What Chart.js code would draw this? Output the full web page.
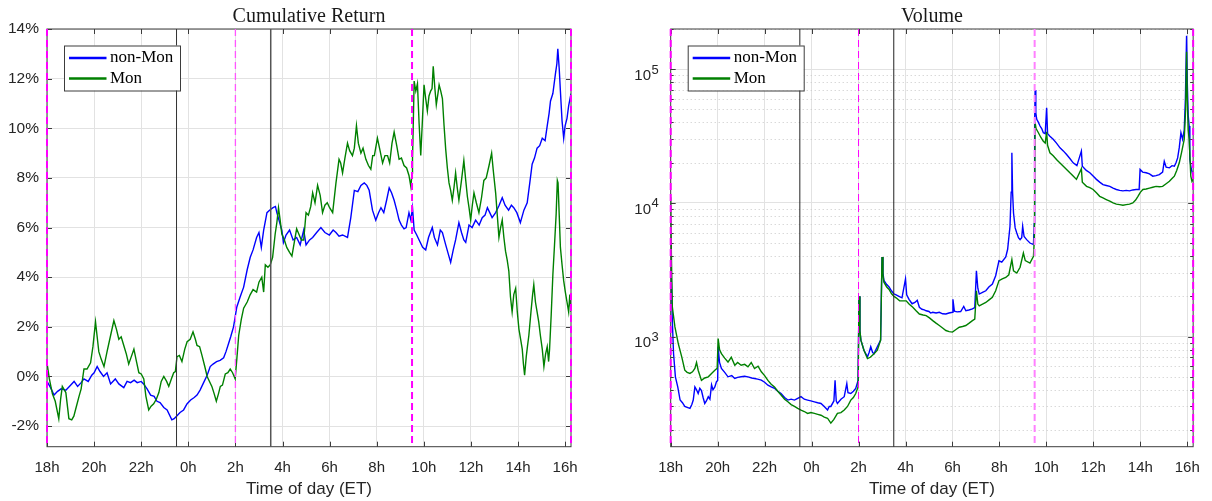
<!DOCTYPE html>
<html>
<head>
<meta charset="utf-8">
<script src="https://cdn.jsdelivr.net/npm/chart.js@4/dist/chart.umd.min.js"></script>
<style>
  body { margin: 0; background: #fff; }
  #wrap { position: relative; width: 1212px; height: 501px; }
  canvas { position: absolute; top: 0; }
</style>
</head>
<body>
<div id="wrap">
  <canvas id="retChart" width="606" height="501" style="left:0"></canvas>
  <canvas id="volChart" width="606" height="501" style="left:606px"></canvas>
</div>
<script>
// hours counted from 18:00 ET (0 = 18h, 22.25 = 16:15)
const xTickHours = [0, 2, 4, 6, 8, 10, 12, 14, 16, 18, 20, 22];
const xTickLabels = ['18h', '20h', '22h', '0h', '2h', '4h', '6h', '8h', '10h', '12h', '14h', '16h'];
const retTicks = [-2, 0, 2, 4, 6, 8, 10, 12, 14];
const volMajorTicks = [1e3, 1e4, 1e5];
const volMajorExps = ['3', '4', '5'];

// session markers: magenta dashed (18h, 2h, 9:30, 16:15) and black (23:30, 3:30)
const magentaHours = [0, 8, 15.5, 22.25];
const blackHours = [5.5, 9.5];

// cumulative return (%), non-Monday
const retNonMonHours = [0,0.15,0.3,0.45,0.6,0.8,1.0,1.15,1.3,1.45,1.57,1.75,1.9,2.0,2.13,2.25,2.4,2.55,2.7,2.9,3.05,3.26,3.4,3.55,3.7,3.83,4.0,4.1,4.25,4.4,4.55,4.67,4.8,4.96,5.1,5.3,5.4,5.5,5.65,5.8,5.95,6.1,6.25,6.37,6.5,6.65,6.8,6.93,7.05,7.2,7.35,7.5,7.6,7.7,7.8,7.92,8.06,8.2,8.35,8.5,8.63,8.75,8.9,9.0,9.1,9.2,9.34,9.45,9.6,9.7,9.76,9.85,9.97,10.04,10.15,10.3,10.45,10.6,10.75,10.9,11.0,11.15,11.28,11.45,11.63,11.8,11.99,12.15,12.27,12.4,12.55,12.76,12.9,13.05,13.2,13.33,13.47,13.58,13.68,13.82,13.96,14.08,14.18,14.3,14.42,14.53,14.63,14.74,14.85,14.95,15.05,15.16,15.25,15.37,15.45,15.52,15.59,15.7,15.8,15.95,16.08,16.2,16.36,16.45,16.58,16.7,16.79,16.93,17.05,17.14,17.25,17.35,17.49,17.6,17.7,17.78,17.92,18.05,18.2,18.35,18.48,18.6,18.7,18.8,18.9,19.05,19.2,19.33,19.45,19.6,19.72,19.82,19.95,20.1,20.25,20.39,20.5,20.6,20.7,20.81,20.92,21.03,21.15,21.24,21.32,21.38,21.48,21.59,21.65,21.69,21.75,21.8,21.87,21.94,22.0,22.08,22.15,22.25];
const retNonMon = [-0.2,-0.45,-0.75,-0.6,-0.5,-0.55,-0.35,-0.2,-0.4,-0.25,-0.1,-0.2,0.05,0.15,0.4,0.2,0.0,0.15,-0.3,-0.1,-0.3,-0.45,-0.2,-0.25,-0.15,-0.25,-0.2,-0.3,-0.5,-0.75,-0.8,-1.0,-1.05,-1.25,-1.35,-1.75,-1.7,-1.6,-1.45,-1.35,-1.1,-0.95,-0.85,-0.75,-0.55,-0.25,0.05,0.4,0.5,0.6,0.65,0.75,1.0,1.3,1.6,2.0,2.8,3.2,3.6,4.3,4.8,5.1,5.6,5.8,5.2,5.9,6.6,6.7,6.8,6.85,6.6,6.3,5.9,5.4,5.7,5.9,5.5,5.6,5.3,5.9,5.3,5.5,5.6,5.8,6.0,5.8,5.7,5.9,5.8,5.65,5.7,5.6,6.4,7.5,7.45,7.7,7.8,7.7,7.5,6.7,6.3,6.6,6.8,6.6,7.1,7.6,7.4,7.1,6.7,6.3,6.1,5.95,6.0,6.6,6.3,6.8,5.9,5.7,5.5,5.2,5.1,5.6,6.0,5.6,5.3,5.9,5.8,5.3,4.9,4.6,5.1,5.5,6.2,5.8,5.5,5.4,6.1,6.0,6.3,6.1,6.4,6.5,6.8,6.6,6.4,6.6,6.9,7.2,6.9,6.7,6.9,6.8,6.6,6.2,6.7,7.0,7.8,8.55,8.8,9.2,9.3,9.6,9.5,10.1,10.6,11.1,11.4,12.2,12.6,13.2,12.4,11.5,10.3,9.6,10.1,10.4,10.9,11.4];

// cumulative return (%), Monday
const retMonHours = [0,0.1,0.23,0.35,0.5,0.58,0.65,0.8,0.93,1.05,1.14,1.25,1.36,1.45,1.57,1.7,1.85,1.95,2.06,2.13,2.2,2.3,2.42,2.55,2.7,2.84,2.95,3.05,3.15,3.26,3.37,3.47,3.58,3.69,3.8,3.9,4.0,4.11,4.2,4.32,4.42,4.53,4.65,4.75,4.85,4.96,5.08,5.17,5.28,5.38,5.45,5.52,5.62,5.73,5.85,5.95,6.08,6.2,6.3,6.37,6.48,6.58,6.7,6.8,6.9,7.0,7.1,7.19,7.28,7.36,7.45,7.57,7.68,7.78,7.88,7.99,8.06,8.14,8.25,8.35,8.5,8.63,8.75,8.9,9.0,9.12,9.2,9.27,9.38,9.48,9.58,9.69,9.76,9.83,9.9,9.97,10.08,10.18,10.3,10.4,10.5,10.6,10.71,10.8,10.9,11.0,11.1,11.2,11.28,11.38,11.49,11.6,11.7,11.8,11.9,12.0,12.13,12.27,12.4,12.47,12.55,12.65,12.76,12.85,12.97,13.05,13.14,13.22,13.33,13.42,13.54,13.65,13.75,13.83,13.9,14.03,14.12,14.25,14.35,14.46,14.55,14.65,14.74,14.85,14.95,15.05,15.16,15.27,15.37,15.45,15.5,15.52,15.56,15.59,15.66,15.73,15.8,15.87,15.94,16.01,16.08,16.15,16.22,16.29,16.35,16.4,16.47,16.53,16.6,16.65,16.72,16.79,16.86,16.93,17.0,17.07,17.14,17.21,17.28,17.35,17.42,17.49,17.6,17.7,17.78,17.85,17.92,17.99,18.06,18.13,18.23,18.34,18.45,18.55,18.65,18.77,18.88,18.95,19.05,19.12,19.19,19.26,19.33,19.4,19.47,19.54,19.61,19.68,19.75,19.82,19.9,19.97,20.04,20.11,20.18,20.23,20.28,20.35,20.4,20.46,20.55,20.62,20.67,20.74,20.81,20.88,20.95,21.03,21.1,21.17,21.24,21.3,21.34,21.41,21.48,21.55,21.62,21.67,21.7,21.75,21.8,21.87,21.94,22.01,22.08,22.15,22.2,22.25];
const retMon = [0.55,-0.1,-0.7,-1.0,-1.7,-0.9,-0.4,-0.65,-1.7,-1.75,-1.6,-1.2,-0.8,-0.5,0.3,0.3,0.55,1.2,2.2,1.6,1.0,0.7,0.4,1.0,1.65,2.25,1.9,1.5,1.6,1.25,0.9,0.5,0.8,1.1,0.6,0.15,0.1,-0.1,-0.8,-1.35,-1.2,-1.1,-0.9,-0.65,-0.2,0.0,-0.2,-0.4,-0.1,0.15,0.2,0.8,0.85,0.6,1.1,1.4,1.5,1.8,1.5,1.25,1.2,0.85,0.4,0.0,-0.2,-0.4,-0.7,-1.0,-0.7,-0.4,-0.35,0.1,0.15,0.3,0.15,-0.1,0.7,1.65,2.3,2.75,3.0,3.3,3.5,3.4,3.8,4.0,3.4,4.5,4.4,4.5,4.8,5.75,6.2,6.8,6.3,5.75,5.5,5.2,5.0,4.85,5.4,5.95,5.7,5.5,5.5,6.6,6.5,6.85,7.4,7.0,7.7,7.3,6.6,6.9,7.0,6.8,6.6,7.8,8.75,8.6,8.2,8.8,9.4,9.1,8.9,9.2,10.1,9.4,9.0,9.2,8.75,8.5,8.35,8.9,8.9,9.6,9.2,8.6,8.9,8.9,8.6,9.4,9.85,9.3,8.75,8.8,8.5,8.4,8.1,7.65,8.2,8.75,10.5,11.9,11.5,11.8,10.2,8.9,10.3,11.75,11.2,10.7,11.3,11.5,11.6,12.5,11.6,10.95,11.4,11.75,11.5,11.2,10.1,9.15,8.4,7.8,7.5,7.1,7.6,8.2,7.6,7.1,7.9,8.7,7.9,7.25,6.8,6.3,6.9,7.4,7.0,6.6,7.2,7.9,8.0,8.5,9.0,8.3,7.4,6.5,5.6,6.0,6.3,5.6,5.05,4.7,4.25,3.2,2.6,3.3,3.55,2.6,1.9,1.5,1.1,0.5,0.05,0.8,1.2,1.65,2.6,3.3,3.7,3.0,2.6,2.2,1.65,1.1,0.4,0.9,1.2,0.6,1.1,2.5,4.1,5.3,6.55,7.9,7.8,6.5,5.2,4.5,3.85,3.4,3.0,2.6,3.3,2.6];

// volume, non-Monday
const volNonMonHours = [0,0.03,0.07,0.12,0.2,0.3,0.4,0.5,0.6,0.7,0.82,0.9,0.96,1.03,1.1,1.17,1.24,1.31,1.38,1.45,1.52,1.6,1.67,1.74,1.8,1.88,1.95,2.0,2.02,2.08,2.16,2.3,2.44,2.6,2.73,2.85,3.0,3.15,3.29,3.45,3.57,3.7,3.86,4.0,4.14,4.28,4.42,4.56,4.7,4.85,4.99,5.13,5.27,5.41,5.55,5.69,5.83,5.97,6.12,6.26,6.4,6.54,6.68,6.75,6.82,6.95,7.0,7.05,7.1,7.25,7.39,7.5,7.55,7.67,7.78,7.88,7.98,8.02,8.06,8.1,8.23,8.38,8.45,8.52,8.6,8.66,8.8,8.94,9.0,9.04,9.08,9.2,9.3,9.4,9.5,9.6,9.72,9.85,10.0,10.05,10.15,10.28,10.4,10.5,10.59,10.7,10.8,10.88,11.0,11.07,11.16,11.3,11.44,11.58,11.72,11.85,12.0,12.02,12.08,12.2,12.35,12.48,12.57,12.7,12.85,12.95,13.02,13.08,13.14,13.3,13.42,13.55,13.7,13.84,13.98,14.1,14.27,14.35,14.45,14.5,14.53,14.56,14.6,14.67,14.74,14.81,14.88,14.95,14.99,15.05,15.16,15.3,15.45,15.48,15.5,15.52,15.55,15.59,15.66,15.73,15.8,15.87,15.95,16.01,16.05,16.15,16.29,16.43,16.58,16.72,16.86,17.0,17.14,17.3,17.49,17.53,17.7,17.85,18.0,18.13,18.27,18.41,18.55,18.7,18.84,18.98,19.12,19.26,19.4,19.54,19.68,19.82,19.95,19.99,20.1,20.25,20.39,20.53,20.67,20.81,20.95,21.02,21.1,21.24,21.35,21.45,21.52,21.59,21.66,21.73,21.8,21.87,21.92,21.97,22.0,22.04,22.08,22.11,22.17,22.25];
const volNonMon = [3500,2600,1300,750,500,420,335,320,300,295,290,310,335,420,400,375,410,395,350,316,330,355,340,435,400,420,460,470,840,640,577,540,500,510,486,495,500,505,500,490,486,480,472,455,433,420,410,390,375,350,335,340,335,345,355,340,335,330,325,320,316,300,282,300,300,330,470,330,316,340,355,445,380,375,390,410,470,2000,1100,940,790,705,760,840,760,745,840,940,3930,3000,2630,2450,2350,2200,2090,2050,2000,1950,2700,2050,1900,1760,1800,1870,1655,1600,1585,1560,1540,1500,1520,1500,1520,1480,1475,1500,1520,1900,1550,1530,1540,1680,1560,1580,1610,1650,3100,2300,2080,2150,2200,2350,2470,2850,3690,3600,3950,4500,6680,12000,23700,12000,8400,6500,5960,5500,5310,5500,6680,5600,5310,5010,4880,7000,40000,70000,47000,42200,40000,37600,36000,33500,33000,51500,33000,31500,29900,28000,25800,24500,23000,21500,19950,19000,24400,18800,17500,16800,15800,15000,14300,13700,13500,13300,12900,12600,12400,12300,12400,12300,12500,12600,12600,17800,17000,16800,16500,15850,16000,16300,17000,20500,18500,18300,19000,18800,20000,21700,26000,33500,30000,35000,60000,178000,80000,45000,37600,21100,18000,15850];

// volume, Monday
const volMonHours = [0,0.03,0.07,0.18,0.32,0.47,0.6,0.7,0.82,0.93,1.03,1.1,1.17,1.31,1.45,1.6,1.74,1.88,1.98,2.02,2.08,2.16,2.3,2.44,2.58,2.73,2.85,3.0,3.15,3.29,3.43,3.57,3.72,3.86,4.0,4.14,4.28,4.42,4.56,4.7,4.85,4.99,5.13,5.27,5.41,5.55,5.69,5.83,5.97,6.12,6.26,6.4,6.54,6.68,6.82,6.95,7.1,7.25,7.39,7.53,7.67,7.78,7.88,7.98,8.02,8.06,8.1,8.23,8.38,8.5,8.66,8.8,8.94,9.0,9.04,9.08,9.2,9.3,9.4,9.5,9.6,9.75,9.9,10.03,10.15,10.31,10.45,10.59,10.75,10.88,11.02,11.16,11.3,11.44,11.58,11.72,11.86,12.0,12.15,12.29,12.43,12.57,12.71,12.85,12.95,13.02,13.08,13.14,13.28,13.42,13.56,13.7,13.84,13.98,14.12,14.27,14.4,14.53,14.6,14.74,14.88,15.02,15.1,15.3,15.45,15.49,15.52,15.56,15.66,15.76,15.87,15.95,16.01,16.05,16.15,16.29,16.43,16.58,16.72,16.86,17.0,17.14,17.28,17.49,17.53,17.71,17.85,17.99,18.13,18.27,18.41,18.55,18.7,18.84,18.98,19.12,19.26,19.4,19.54,19.68,19.8,19.9,20.0,20.11,20.25,20.39,20.53,20.67,20.81,20.95,21.1,21.24,21.35,21.45,21.55,21.66,21.76,21.87,21.93,21.97,22.0,22.04,22.08,22.15,22.2,22.25];
const volMon = [11000,4000,1660,1180,890,705,560,540,530,545,577,640,560,470,490,500,530,560,580,965,800,745,690,645,700,610,640,610,620,594,640,577,600,545,510,470,440,420,390,365,340,325,310,300,290,282,275,266,270,266,262,258,250,245,225,240,266,270,282,300,335,350,375,420,2000,1100,940,790,685,700,745,790,940,3930,2900,2550,2350,2250,2100,2000,1950,1855,1850,1850,1750,1655,1560,1475,1450,1435,1380,1316,1260,1210,1160,1110,1090,1080,1130,1175,1190,1210,1260,1316,1350,2200,1750,1700,1750,1800,1880,1965,2200,2620,2700,2770,2900,3760,3100,2985,3300,4220,3700,3550,3980,5500,39800,36000,33500,31000,28900,28000,34000,27000,23700,22500,21100,19900,18800,17800,16800,15900,15000,18000,14300,13300,13000,12600,11900,11200,10900,10600,10300,10000,9800,9700,9600,9700,9800,10000,10500,11200,12000,12600,12700,12900,13100,13300,13200,13300,13900,14500,15200,15850,17500,19950,24000,29900,50000,135000,60000,35000,29900,15850,14500,15000];

const SANS = "'Liberation Sans', Arial, 'DejaVu Sans', sans-serif";
const SERIF = "'Liberation Serif', 'Times New Roman', serif";
const BLUE = '#0000ff';
const GREEN = '#008000';

function pts(hours, vals) {
  return hours.map((h, i) => ({ x: h, y: vals[i] }));
}

// dotted minor grid (log axis only) under the data
const minorGrid = {
  id: 'minorGrid',
  beforeDatasetsDraw(chart) {
    const { ctx, chartArea: a, scales: { y } } = chart;
    ctx.save();
    ctx.strokeStyle = '#c8c8c8';
    ctx.lineWidth = 1;
    ctx.setLineDash([1, 3]);
    ctx.beginPath();
    y.ticks.forEach(t => {
      if (t.major !== false) return;
      const py = Math.round(y.getPixelForValue(t.value)) + 0.5;
      ctx.moveTo(a.left, py); ctx.lineTo(a.right, py);
    });
    ctx.stroke();
    ctx.restore();
  }
};

// box, inward ticks, session lines and legend, drawn over the plot
const decor = {
  id: 'decor',
  afterDatasetsDraw(chart, args, opts) {
    const { ctx, chartArea: a, scales: { x, y } } = chart;
    ctx.save();
    ctx.strokeStyle = '#3c3c3c';
    ctx.lineWidth = 1;
    ctx.strokeRect(a.left, a.top, a.right - a.left, a.bottom - a.top);
    ctx.beginPath();
    x.ticks.forEach(t => {
      const px = Math.round(x.getPixelForValue(t.value)) + 0.5;
      ctx.moveTo(px, a.bottom); ctx.lineTo(px, a.bottom - 5);
      ctx.moveTo(px, a.top); ctx.lineTo(px, a.top + 5);
    });
    y.ticks.forEach(t => {
      const py = Math.round(y.getPixelForValue(t.value)) + 0.5;
      const len = t.major === false ? 3 : 5;
      ctx.moveTo(a.left, py); ctx.lineTo(a.left + len, py);
      ctx.moveTo(a.right, py); ctx.lineTo(a.right - len, py);
    });
    ctx.stroke();

    // power-of-ten labels for the log axis
    if (opts.powerLabels) {
      ctx.fillStyle = '#262626';
      ctx.textAlign = 'right';
      ctx.textBaseline = 'alphabetic';
      volMajorTicks.forEach((v, i) => {
        const py = y.getPixelForValue(v);
        ctx.font = '13px ' + SANS;
        const ex = a.left - 12;
        ctx.fillText(volMajorExps[i], ex, py + 4.5);
        const ew = ctx.measureText(volMajorExps[i]).width;
        ctx.font = '15px ' + SANS;
        ctx.fillText('10', ex - ew - 0.5, py + 10.7);
      });
    }

    // session lines
    blackHours.forEach((h, i) => {
      const s = opts.black[i];
      const px = x.getPixelForValue(h);
      ctx.beginPath();
      ctx.setLineDash([]);
      ctx.strokeStyle = s.color; ctx.lineWidth = s.width;
      ctx.moveTo(px, a.top); ctx.lineTo(px, a.bottom);
      ctx.stroke();
    });
    magentaHours.forEach((h, i) => {
      const s = opts.magenta[i];
      const px = x.getPixelForValue(h);
      ctx.beginPath();
      ctx.setLineDash([7, 4]);
      ctx.strokeStyle = s.color; ctx.lineWidth = s.width;
      ctx.moveTo(px, a.top); ctx.lineTo(px, a.bottom);
      ctx.stroke();
    });
    ctx.setLineDash([]);

    // legend
    const bx = a.left + 17, by = a.top + 16.5, bw = 116, bh = 45;
    ctx.fillStyle = '#fff';
    ctx.fillRect(bx, by, bw, bh);
    ctx.strokeStyle = '#3c3c3c'; ctx.lineWidth = 1;
    ctx.strokeRect(bx + 0.5, by + 0.5, bw, bh);
    const items = [['non-Mon', BLUE, 12.5], ['Mon', GREEN, 33]];
    ctx.font = '17px ' + SERIF;
    ctx.textAlign = 'left';
    ctx.textBaseline = 'middle';
    items.forEach(([label, color, dy]) => {
      ctx.beginPath();
      ctx.strokeStyle = color; ctx.lineWidth = 2.5;
      ctx.moveTo(bx + 5, by + dy); ctx.lineTo(bx + 42.5, by + dy);
      ctx.stroke();
      ctx.fillStyle = '#000';
      ctx.fillText(label, bx + 46, by + dy);
    });
    ctx.restore();
  }
};

function xAxis() {
  return {
    type: 'linear',
    min: 0,
    max: 22.25,
    afterBuildTicks: s => { s.ticks = xTickHours.map(v => ({ value: v })); },
    afterFit: s => { s.height = 54.3; },
    ticks: {
      autoSkip: false, maxRotation: 0, padding: 12,
      color: '#262626', font: { family: SANS, size: 15 },
      callback: (v, i) => xTickLabels[i]
    },
    grid: { color: '#e2e2e2', drawTicks: false },
    border: { display: false },
    title: {
      display: true, text: 'Time of day (ET)', color: '#262626',
      font: { family: SANS, size: 17 }, padding: { top: 0, bottom: 1 }
    }
  };
}

function titleOpts(text) {
  return {
    display: true, text, fullSize: false, color: '#1a1a1a',
    font: { family: SERIF, size: 20, weight: 'normal' },
    padding: { top: 5, bottom: 0 }
  };
}

function dataset(label, data, color, order) {
  return { label, data, borderColor: color, borderWidth: 1.4, pointRadius: 0, tension: 0, order };
}

new Chart(document.getElementById('retChart').getContext('2d'), {
  type: 'line',
  data: {
    datasets: [
      dataset('non-Mon', pts(retNonMonHours, retNonMon), BLUE, 1),
      dataset('Mon', pts(retMonHours, retMon), GREEN, 0)
    ]
  },
  options: {
    responsive: false,
    animation: false,
    layout: { padding: { left: 0, right: 35, top: 0, bottom: 0 } },
    scales: {
      x: xAxis(),
      y: {
        min: -2.83,
        max: 14,
        afterBuildTicks: s => { s.ticks = retTicks.map(v => ({ value: v })); },
        afterFit: s => { s.width = 47; },
        ticks: { padding: 8, color: '#262626', font: { family: SANS, size: 15.5 }, callback: v => v + '%' },
        grid: { color: '#e2e2e2', drawTicks: false },
        border: { display: false }
      }
    },
    plugins: {
      legend: { display: false },
      tooltip: { enabled: false },
      title: titleOpts('Cumulative Return'),
      decor: {
        magenta: [
          { color: '#ff00ff', width: 2 }, { color: '#ff55ff', width: 1.3 },
          { color: '#ff00ff', width: 2 }, { color: '#ff00ff', width: 2 }
        ],
        black: [{ color: '#333', width: 1 }, { color: '#555', width: 1.5 }]
      }
    }
  },
  plugins: [decor]
});

new Chart(document.getElementById('volChart').getContext('2d'), {
  type: 'line',
  data: {
    datasets: [
      dataset('non-Mon', pts(volNonMonHours, volNonMon), BLUE, 1),
      dataset('Mon', pts(volMonHours, volMon), GREEN, 0)
    ]
  },
  options: {
    responsive: false,
    animation: false,
    layout: { padding: { left: 0, right: 16.7, top: 0, bottom: 0 } },
    scales: {
      x: xAxis(),
      y: {
        type: 'logarithmic',
        min: 150,
        max: 200000,
        afterBuildTicks: s => {
          const t = [];
          for (let d = 100; d <= 100000; d *= 10) {
            for (let k = 1; k < 10; k++) {
              const v = k * d;
              if (v >= 150 && v <= 200000) t.push({ value: v, major: k === 1 });
            }
          }
          s.ticks = t;
        },
        afterFit: s => { s.width = 64.7; },
        ticks: { autoSkip: false, display: true, callback: () => '' },
        grid: {
          drawTicks: false,
          color: c => (c.tick && c.tick.major ? '#e2e2e2' : 'rgba(0,0,0,0)')
        },
        border: { display: false }
      }
    },
    plugins: {
      legend: { display: false },
      tooltip: { enabled: false },
      title: titleOpts('Volume'),
      decor: {
        powerLabels: true,
        magenta: [
          { color: '#ff00ff', width: 2 }, { color: '#ff00ff', width: 1 },
          { color: '#ff80ff', width: 2 }, { color: '#ff00ff', width: 2 }
        ],
        black: [{ color: '#222', width: 1 }, { color: '#222', width: 1 }]
      }
    }
  },
  plugins: [minorGrid, decor]
});
</script>
</body>
</html>
